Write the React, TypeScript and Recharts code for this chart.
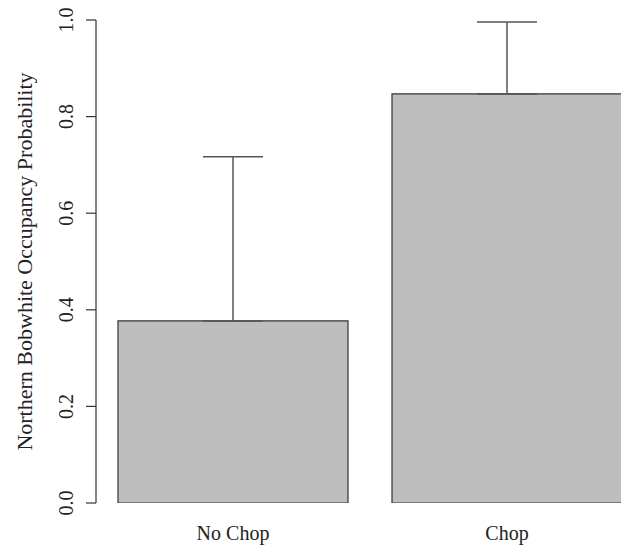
import React from 'react'
import { Bar, BarChart, ErrorBar, XAxis, YAxis } from 'recharts'

const categories = ['No Chop', 'Chop']
const occupancy = [0.377, 0.847]
const upperCI = [0.717, 0.996]
const yTicks = [0, 0.2, 0.4, 0.6, 0.8, 1.0]

const FONT = '"Liberation Serif", "Times New Roman", serif'
const AXIS = '#333333'

const data = categories.map((name, i) => ({
    name,
    value: occupancy[i],
    err: [0, upperCI[i] - occupancy[i]],
}))

const YTick = (props: any) => {
    const { y, payload } = props
    return (
        <text
            x={73}
            y={y}
            transform={`rotate(-90, 73, ${y})`}
            textAnchor="middle"
            fontFamily={FONT}
            fontSize={20}
            fill="#222"
        >
            {payload.value.toFixed(1)}
        </text>
    )
}

const XTick = (props: any) => {
    const { x, payload } = props
    return (
        <text x={x} y={540} textAnchor="middle" fontFamily={FONT} fontSize={20} fill="#222">
            {payload.value}
        </text>
    )
}

const YLabel = (props: any) => {
    const vb = props.viewBox ?? { x: 0, y: 20, width: 96, height: 483 }
    const cx = 32
    const cy = vb.y + vb.height / 2
    return (
        <text
            x={cx}
            y={cy}
            transform={`rotate(-90, ${cx}, ${cy})`}
            textAnchor="middle"
            fontFamily={FONT}
            fontSize={22}
            fill="#222"
        >
            Northern Bobwhite Occupancy Probability
        </text>
    )
}

const App: React.FC = () => {
    return (
        <div style={{ position: 'absolute', left: 0, top: 0, width: 621, height: 548, overflow: 'hidden', background: '#fff' }}>
            <BarChart
                width={644}
                height={548}
                data={data}
                margin={{ top: 20, right: 0, left: 0, bottom: 0 }}
            >
                <XAxis
                    dataKey="name"
                    height={45}
                    axisLine={false}
                    tickLine={false}
                    tick={<XTick />}
                    interval={0}
                />
                <YAxis
                    width={96}
                    domain={[0, 1]}
                    ticks={yTicks}
                    tickSize={10}
                    axisLine={{ stroke: AXIS, strokeWidth: 1.2 }}
                    tickLine={{ stroke: AXIS, strokeWidth: 1.2 }}
                    tick={<YTick />}
                    label={<YLabel />}
                    allowDataOverflow
                />
                <Bar dataKey="value" barSize={230} fill="#bebebe" stroke={AXIS} strokeWidth={1.2} isAnimationActive={false}>
                    <ErrorBar dataKey="err" width={30} stroke="#555" strokeWidth={1.5} direction="y" />
                </Bar>
            </BarChart>
        </div>
    )
}

export default App
